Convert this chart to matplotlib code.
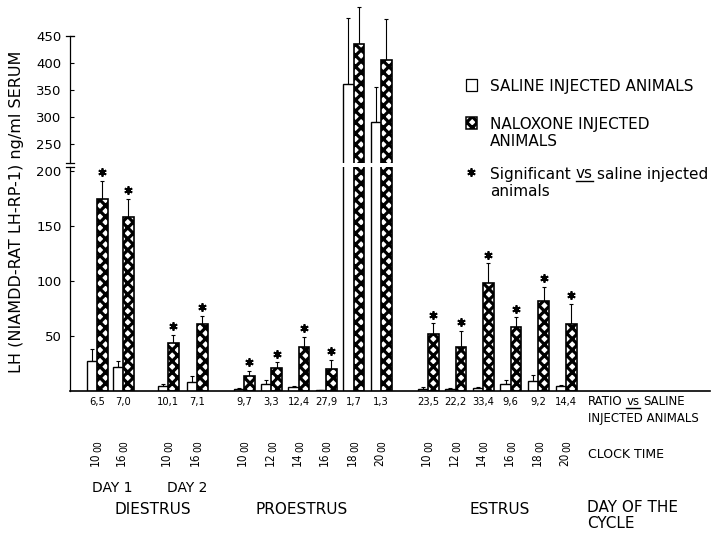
import numpy as np
import matplotlib
matplotlib.use("Agg")
import matplotlib.pyplot as plt
from matplotlib.patches import Rectangle
from matplotlib.lines import Line2D
import matplotlib.transforms as mtransforms

# ---------------- data ----------------
phase_names = ["DIESTRUS", "PROESTRUS", "ESTRUS"]
day_names = ["DAY 1", "DAY 2"]
group_sizes = [2, 2, 6, 6]          # diestrus day 1, diestrus day 2, proestrus, estrus
clock_hours = ["10", "16", "10", "16", "10", "12", "14", "16", "18", "20",
               "10", "12", "14", "16", "18", "20"]
ratio_labels = ["6,5", "7,0", "10,1", "7,1", "9,7", "3,3", "12,4", "27,9", "1,7", "1,3",
                "23,5", "22,2", "33,4", "9,6", "9,2", "14,4"]
saline_mean = [27, 22, 4.4, 8.6, 1.5, 6.4, 3.2, 0.8, 362, 291, 2.2, 1.8, 2.9, 6.5, 8.9, 4.2]
saline_sem = [11, 5, 2, 5, 1, 4, 1, 0.5, 121, 65, 1, 0.5, 1, 3.5, 6, 1]
naloxone_mean = [175, 158, 44, 61, 14, 21, 40, 20, 435, 406, 52, 40, 98, 58, 82, 61]
naloxone_sem = [16, 17, 7, 7, 4, 5, 9, 8, 68, 75, 9.5, 15, 18, 9, 13, 18]
significant = [1, 1, 1, 1, 1, 1, 1, 1, 0, 0, 1, 1, 1, 1, 1, 1]

# ---------------- layout ----------------
plt.rcParams["font.family"] = ["DejaVu Sans"]
plt.rcParams["hatch.linewidth"] = 2.3
W, H = 725, 534
fig = plt.figure(figsize=(W / 100, H / 100), dpi=100)


def fx(x):
    return x / W


def fy(y):
    return 1 - y / H


X0, X1 = 70, 710
Y_BASE, Y_LO_TOP = 391, 166.6
Y_UP_BOT, Y_UP_TOP = 163, 3.7
LO_MAX = 204
UP_MIN, UP_MAX = 215, 510

ax_lo = fig.add_axes([fx(X0), fy(Y_BASE), (X1 - X0) / W, (Y_BASE - Y_LO_TOP) / H])
ax_up = fig.add_axes([fx(X0), fy(Y_UP_BOT), (X1 - X0) / W, (Y_UP_BOT - Y_UP_TOP) / H],
                     sharex=ax_lo)
for a in (ax_lo, ax_up):
    a.patch.set_alpha(0)

group_start = [97, 168, 244, 428]
group_step = [26, 29, 27.4, 27.6]
xpos = []
for n, s, d in zip(group_sizes, group_start, group_step):
    xpos += [s + i * d for i in range(n)]
xpos = np.array(xpos)
bw = 10.5

sal = np.array(saline_mean)
sal_e = np.array(saline_sem)
nal = np.array(naloxone_mean)
nal_e = np.array(naloxone_sem)
sig = np.array(significant, dtype=bool)
zeros = np.zeros(len(xpos))

for a in (ax_lo, ax_up):
    a.errorbar(xpos - bw / 2, sal, yerr=[zeros, sal_e], fmt="none", ecolor="black",
               elinewidth=0.8, capsize=1.6, capthick=0.8, zorder=1)
    a.errorbar(xpos + bw / 2, nal, yerr=[zeros, nal_e], fmt="none", ecolor="black",
               elinewidth=0.8, capsize=1.6, capthick=0.8, zorder=1)
    a.bar(xpos - bw / 2, sal, bw, color="white", edgecolor="black", linewidth=1.0, zorder=2)
    a.bar(xpos + bw / 2, nal, bw, color="white", edgecolor="black", hatch="xxx",
          linewidth=1.2, zorder=2)
    a.set_xlim(X0, X1)
    a.tick_params(axis="x", bottom=False, labelbottom=False)
    a.tick_params(axis="y", direction="in", length=3, width=0.8, labelsize=9.5, pad=6)
    a.spines["top"].set_visible(False)
    a.spines["right"].set_visible(False)

# asterisks
ax_lo.plot(xpos[sig] + bw / 2, (nal + nal_e)[sig] + 8, ls="none", marker=(6, 2, 0),
           ms=6, mew=1.3, color="black", zorder=3)

ax_lo.set_ylim(0, LO_MAX)
ax_lo.set_yticks([50, 100, 150, 200])
ax_lo.spines["bottom"].set_linewidth(1.2)
ax_lo.spines["left"].set_linewidth(0.9)

ax_up.set_ylim(UP_MIN, UP_MAX)
ax_up.set_yticks([250, 300, 350, 400, 450])
ax_up.spines["bottom"].set_visible(False)
ax_up.spines["left"].set_bounds(UP_MIN, 450)
ax_up.spines["left"].set_linewidth(0.9)

# break marks on the y axis
for a, yv in ((ax_up, UP_MIN), (ax_lo, LO_MAX), (ax_up, 450)):
    a.plot([-0.006, 0.006], [yv, yv], transform=a.get_yaxis_transform(),
           clip_on=False, color="black", lw=0.9)

# ---------------- texts ----------------
PX = 100 / 72


def btext(x, yc, s, fs, **kw):
    """text whose caps are centred on pixel row yc"""
    return fig.text(fx(x), fy(yc + 0.36 * fs * PX), s, fontsize=fs, va="baseline", **kw)


fig.text(fx(17), fy(212), "LH (NIAMDD-RAT LH-RP-1) ng/ml SERUM", rotation=90,
         ha="center", va="center", fontsize=11.5)

bt = mtransforms.blended_transform_factory(ax_lo.transData, fig.transFigure)
for x, lab in zip(xpos, ratio_labels):
    ax_lo.text(x, fy(401 + 0.36 * 8 * PX), lab, transform=bt, ha="center", va="baseline",
               fontsize=8, fontstretch="condensed")
for x, h in zip(xpos, clock_hours):
    ax_lo.text(x - 1.5, fy(459), h, transform=bt, ha="center", va="center",
               rotation=90, fontsize=8.5, fontstretch="condensed")
    ax_lo.text(x + 1.5, fy(446), "00", transform=bt, ha="center", va="center",
               rotation=90, fontsize=7.5, fontstretch="condensed")

btext(112, 487, day_names[0], 10, ha="center")
btext(187, 487, day_names[1], 10, ha="center")
btext(153, 509, phase_names[0], 11, ha="center")
btext(302, 509, phase_names[1], 11, ha="center")
btext(500, 509, phase_names[2], 11, ha="center")
btext(587, 507, "DAY OF THE", 11, ha="left")
btext(587, 523, "CYCLE", 11, ha="left")
btext(588, 453, "CLOCK TIME", 9, ha="left")
btext(588, 418, "INJECTED ANIMALS", 8.5, ha="left")

# legend
fig.add_artist(Rectangle((fx(466), fy(91)), 11 / W, 12 / H, transform=fig.transFigure,
                         facecolor="white", edgecolor="black", lw=0.9))
fig.add_artist(Rectangle((fx(466), fy(129)), 11 / W, 12 / H, transform=fig.transFigure,
                         facecolor="white", edgecolor="black", hatch="xxx", lw=1.1))
fig.add_artist(Line2D([fx(471)], [fy(172)], transform=fig.transFigure, ls="none",
                      marker=(6, 2, 0), ms=6, mew=1.3, color="black"))
btext(490, 85, "SALINE INJECTED ANIMALS", 11, ha="left")
btext(490, 123, "NALOXONE INJECTED", 11, ha="left")
btext(490, 141, "ANIMALS", 11, ha="left")
btext(490, 190, "animals", 11, ha="left")

renderer = fig.canvas.get_renderer()


def chain(x, yc, pieces, fs, underline):
    sp = 0.318 * fs * PX
    cur = x
    for i, p in enumerate(pieces):
        t = btext(cur, yc, p, fs, ha="left")
        bb = t.get_window_extent(renderer)
        if i in underline:
            yb = yc + 0.36 * fs * PX + 2.5
            fig.add_artist(Line2D([fx(bb.x0), fx(bb.x1)], [fy(yb), fy(yb)],
                                  transform=fig.transFigure, color="black", lw=1.0))
        cur = bb.x1 + sp


chain(490, 173, ["Significant", "vs", "saline injected"], 11, [1])
chain(588, 401, ["RATIO", "vs", "SALINE"], 8.5, [1])

fig.savefig("out.png", dpi=100)
